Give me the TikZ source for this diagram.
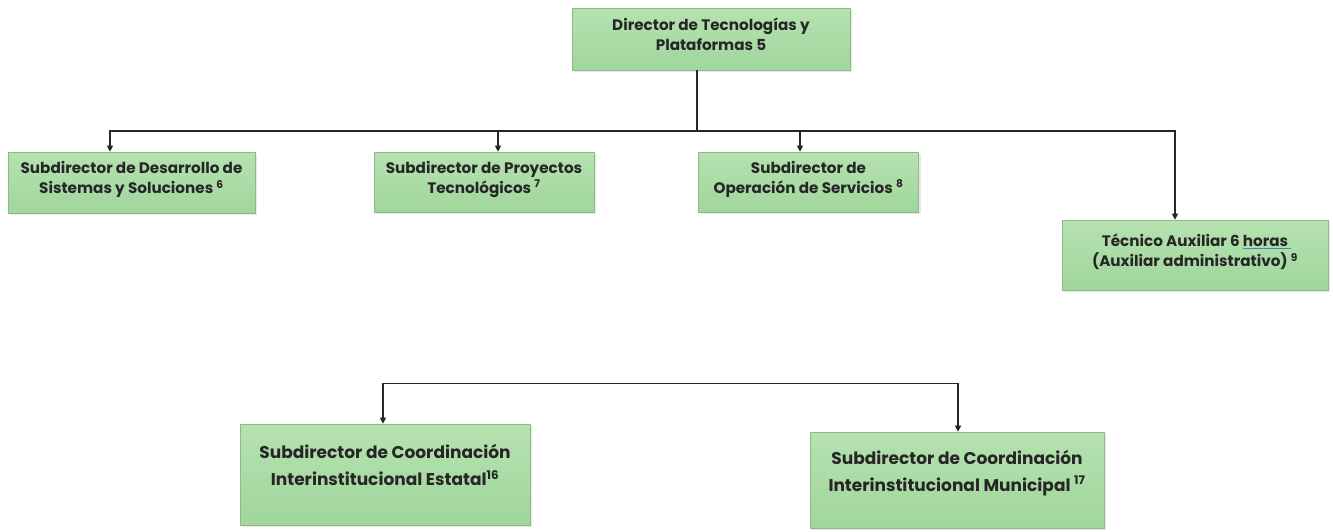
\documentclass[tikz,border=0pt]{standalone}
\usepackage{fontspec}
\setmainfont{Poppins}
\usetikzlibrary{arrows.meta,shadows}
\definecolor{boxtop}{HTML}{B6E2B0}
\definecolor{boxbot}{HTML}{A0D69C}
\definecolor{boxline}{HTML}{8FB98A}
\definecolor{txt}{HTML}{262626}
\definecolor{ulblue}{HTML}{4A7FC0}
\newcommand\blueul[1]{\setbox0\hbox{#1\ }\rlap{\textcolor{ulblue}{\rule[-3pt]{\wd0}{1.2pt}}}#1}
\begin{document}
\begin{tikzpicture}[x=1pt,y=-1pt,
  orgbox/.style={draw=boxline, line width=0.6pt, top color=boxtop, bottom color=boxbot,
    align=center, text=txt, font=\fontsize{15.2}{20}\selectfont\bfseries, inner sep=0pt,
    drop shadow={opacity=0.18, shadow xshift=2pt, shadow yshift=-2pt}},
  bigbox/.style={orgbox, font=\fontsize{17}{27}\selectfont\bfseries},
  conn/.style={draw=black!85, line width=1.1pt},
  arr/.style={conn, -{Triangle[width=6pt,length=6pt]}},
  darr/.style={conn, {Triangle[width=6pt,length=6pt]}-{Triangle[width=6pt,length=6pt]}}]
\useasboundingbox (0,0) rectangle (1333,531);
\fill[white] (0,0) rectangle (1333,531);

\node[orgbox, minimum width=278, minimum height=62] (top) at (711,39)
  {Director de Tecnologías y\\Plataformas 5\\[-10pt]};
\node[orgbox, minimum width=247, minimum height=61] (a) at (131.5,182.5)
  {Subdirector de Desarrollo de\\Sistemas y Soluciones \textsuperscript{6}\\[-10pt]};
\node[orgbox, minimum width=220, minimum height=60] (b) at (484,182)
  {Subdirector de Proyectos\\Tecnológicos \textsuperscript{7}\\[-10pt]};
\node[orgbox, minimum width=220, minimum height=60] (c) at (808.5,182)
  {Subdirector de\\Operación de Servicios \textsuperscript{8}\\[-10pt]};
\node[orgbox, minimum width=266, minimum height=70] (d) at (1195,255)
  {Técnico Auxiliar 6 \blueul{horas}\\(Auxiliar administrativo) \textsuperscript{9}\\[-10pt]};
\node[bigbox, minimum width=290, minimum height=101] (e) at (385,474.5)
  {Subdirector de Coordinación\\Interinstitucional Estatal\textsuperscript{16}\\[-8pt]};
\node[bigbox, minimum width=294, minimum height=96] (f) at (957,480)
  {Subdirector de Coordinación\\Interinstitucional Municipal \textsuperscript{17}\\[-8pt]};

\coordinate (bus) at (697,131);
\draw[conn] ([xshift=-14]top.south) -- (bus);
\draw[arr] (bus) -| ([xshift=-21.5]a.north);
\draw[arr] (bus) -| ([xshift=14]b.north);
\draw[arr] (bus) -| ([xshift=-8.5]c.north);
\draw[arr] (bus) -| ([xshift=-20]d.north);
\draw[darr] ([xshift=-2]e.north) -- ++(0,-40) -| ([xshift=1]f.north);
\end{tikzpicture}
\end{document}
